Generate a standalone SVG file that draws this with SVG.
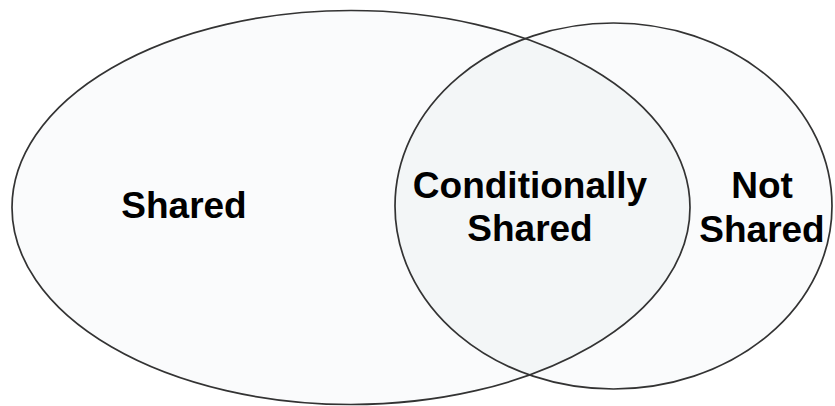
<svg xmlns="http://www.w3.org/2000/svg" width="835" height="406" viewBox="0 0 835 406">
  <style>
    .set { fill: #fafbfc; stroke: none; }
    .overlap { fill: #f3f6f7; }
    .outline { fill: none; stroke: #333333; stroke-width: 1.7; }
    .label { font-family: "Liberation Sans", Arial, sans-serif; font-weight: bold; font-size: 37px; fill: #000; text-anchor: middle; }
  </style>
  <defs>
    <clipPath id="clipShared">
      <ellipse cx="351" cy="207.5" rx="339" ry="197"/>
    </clipPath>
  </defs>
  <rect width="835" height="406" fill="#ffffff"/>

  <!-- filled regions -->
  <g id="shared">
    <ellipse class="set" cx="351" cy="207.5" rx="339" ry="197"/>
  </g>
  <g id="not-shared">
    <ellipse class="set" cx="613.5" cy="206" rx="218.5" ry="183"/>
  </g>
  <g id="conditionally-shared">
    <ellipse class="overlap" cx="613.5" cy="206" rx="218.5" ry="183" clip-path="url(#clipShared)"/>
  </g>

  <!-- set boundaries -->
  <g id="outlines">
    <ellipse class="outline" cx="351" cy="207.5" rx="339" ry="197"/>
    <ellipse class="outline" cx="613.5" cy="206" rx="218.5" ry="183"/>
  </g>

  <!-- labels -->
  <g id="labels">
    <text class="label" x="184" y="218">Shared</text>
    <text class="label" x="530" y="198">Conditionally</text>
    <text class="label" x="530" y="241">Shared</text>
    <text class="label" x="762" y="198">Not</text>
    <text class="label" x="762" y="242">Shared</text>
  </g>
</svg>
